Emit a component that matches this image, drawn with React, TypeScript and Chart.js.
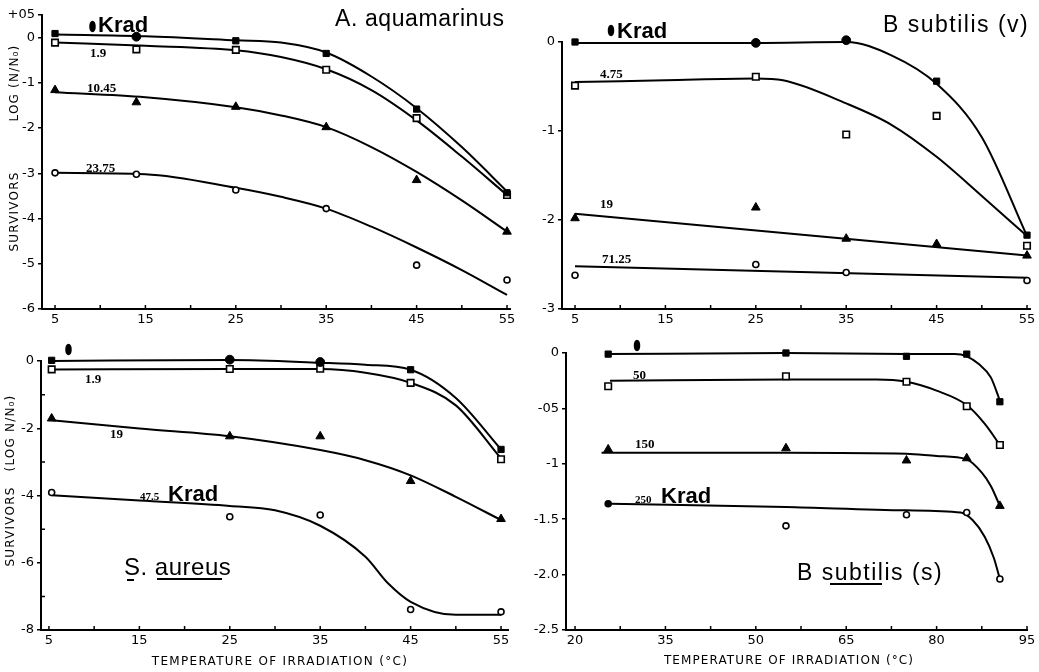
import React, { useEffect, useRef } from 'react';
import { Chart, registerables } from 'chart.js';
Chart.register(...registerables);

// ---------- Panel A : A. aquamarinus ----------
const A_X = [5, 14, 25, 35, 45, 55];
const A_K0 = [0.09, 0.02, -0.07, -0.35, -1.58, -3.43];
const A_K1_9 = [-0.11, -0.26, -0.27, -0.71, -1.78, -3.48];
const A_K10_45 = [-1.16, -1.43, -1.53, -1.98, -3.15, -4.29];
const A_K23_75 = [-2.99, -3.02, -3.37, -3.78, -5.03, -5.36];
const A_FIT_X = [5, 15, 25, 30, 35, 40, 45, 50, 55];
const A_FIT_K0 = [0.07, 0.03, -0.06, -0.11, -0.33, -0.86, -1.56, -2.42, -3.4];
const A_FIT_K1_9 = [-0.11, -0.18, -0.28, -0.43, -0.7, -1.16, -1.83, -2.63, -3.48];
const A_FIT_K10_45 = [-1.21, -1.32, -1.54, -1.72, -1.98, -2.42, -2.97, -3.6, -4.29];
const A_FIT_K23_75 = [-2.99, -3.02, -3.32, -3.52, -3.78, -4.18, -4.64, -5.14, -5.69];
const A_Y_TICKS = [0.5, 0, -1, -2, -3, -4, -5, -6];
const A_Y_LABELS = ['+05', '0', '-1', '-2', '-3', '-4', '-5', '-6'];

// ---------- Panel B : B subtilis (v) ----------
const B_X = [5, 25, 35, 45, 55];
const B_K0 = [0, -0.01, 0.02, -0.44, -2.17];
const B_K4_75 = [-0.49, -0.39, -1.04, -0.83, -2.29];
const B_K19 = [-1.98, -1.86, -2.21, -2.27, -2.4];
const B_X71 = [5, 25, 35, 55];
const B_K71_25 = [-2.62, -2.5, -2.59, -2.68];
const B_FIT0_X = [5, 25, 35, 40, 45, 50, 55];
const B_FIT_K0 = [-0.01, -0.01, 0.0, -0.15, -0.47, -1.07, -2.18];
const B_FIT475_X = [5, 15, 25, 28, 35, 40, 45, 50, 55];
const B_FIT_K4_75 = [-0.45, -0.43, -0.41, -0.43, -0.69, -0.93, -1.29, -1.73, -2.18];
const B_FITLIN_X = [5, 55];
const B_FIT_K19 = [-1.93, -2.4];
const B_FIT_K71_25 = [-2.52, -2.65];
const B_Y_TICKS = [0, -1, -2, -3];
const B_Y_LABELS = ['0', '-1', '-2', '-3'];

// ---------- Panel C : S. aureus ----------
const C_X = [5.3, 25, 35, 45, 55];
const C_K0 = [0.02, 0.04, -0.03, -0.26, -2.63];
const C_K1_9 = [-0.25, -0.24, -0.23, -0.65, -2.92];
const C_K19 = [-1.71, -2.24, -2.24, -3.57, -4.7];
const C_K47_5 = [-3.91, -4.63, -4.58, -7.39, -7.46];
const C_FIT_X0 = [5.3, 25, 35, 40, 45, 50, 55];
const C_FIT_K0 = [0, 0.03, -0.05, -0.11, -0.26, -1.1, -2.63];
const C_FIT_K1_9 = [-0.25, -0.24, -0.24, -0.35, -0.65, -1.32, -2.9];
const C_FIT_X19 = [5.3, 15, 25, 35, 40, 45, 50, 55];
const C_FIT_K19 = [-1.76, -2.01, -2.24, -2.65, -2.95, -3.4, -4.04, -4.73];
const C_FIT_X47 = [5.3, 15, 25, 30, 35, 40, 42.5, 45, 50, 55];
const C_FIT_K47_5 = [-3.99, -4.15, -4.31, -4.44, -4.9, -5.82, -6.61, -7.16, -7.55, -7.55];
const C_Y_TICKS = [0, -2, -4, -6, -8];
const C_Y_LABELS = ['0', '-2', '-4', '-6', '-8'];
const C_Y_MINOR = [-1, -3, -5, -7];

// ---------- Panel D : B subtilis (s) ----------
const D_X = [25.5, 55, 75, 85, 90.5];
const D_K0 = [-0.01, 0, -0.03, -0.01, -0.44];
const D_K50 = [-0.3, -0.21, -0.26, -0.48, -0.83];
const D_K150 = [-0.87, -0.86, -0.97, -0.95, -1.38];
const D_K250 = [-1.36, -1.56, -1.46, -1.44, -2.04];
const D_FIT_X0 = [25, 55, 75, 83, 85, 87, 89, 90.5];
const D_FIT_K0 = [-0.01, 0, -0.01, -0.01, -0.03, -0.1, -0.22, -0.43];
const D_FIT_X50 = [25.8, 55, 70, 75, 80, 85, 88, 90.5];
const D_FIT_K50 = [-0.25, -0.24, -0.24, -0.26, -0.34, -0.47, -0.64, -0.83];
const D_FIT_X150 = [24.4, 55, 75, 80, 85, 87.5, 89, 90.5];
const D_FIT_K150 = [-0.9, -0.9, -0.91, -0.93, -0.96, -1.08, -1.2, -1.38];
const D_FIT_X250 = [25.8, 55, 75, 84, 86, 88, 89.5, 90.5];
const D_FIT_K250 = [-1.36, -1.39, -1.42, -1.44, -1.51, -1.66, -1.85, -2.04];
const D_Y_TICKS = [0, -0.5, -1, -1.5, -2, -2.5];
const D_Y_LABELS = ['0', '-05', '-1', '-1.5', '-2.0', '-2.5'];

// ---------- x tick sets ----------
const X_TICKS_T = [5, 10, 15, 20, 25, 30, 35, 40, 45, 50, 55];
const X_LABELS_T = ['5', '', '15', '', '25', '', '35', '', '45', '', '55'];
const X_TICKS_D = [20, 27.5, 35, 42.5, 50, 57.5, 65, 72.5, 80, 87.5, 95];
const X_LABELS_D = ['20', '', '35', '', '50', '', '65', '', '80', '', '95'];

const X_TITLE = 'TEMPERATURE OF IRRADIATION (°C)';

const MARK: Record<string, any> = {
  sqFill: { pointStyle: 'rect', pointRadius: 4.4, pointBackgroundColor: '#000', pointBorderColor: '#000', pointBorderWidth: 1 },
  sqOpen: { pointStyle: 'rect', pointRadius: 4.6, pointBackgroundColor: '#fff', pointBorderColor: '#000', pointBorderWidth: 1.6 },
  tri: { pointStyle: 'triangle', pointRadius: 5, pointBackgroundColor: '#000', pointBorderColor: '#000', pointBorderWidth: 1 },
  circOpen: { pointStyle: 'circle', pointRadius: 3, pointBackgroundColor: '#fff', pointBorderColor: '#000', pointBorderWidth: 1.6 },
};

const pts = (xs: number[], ys: number[]) => xs.map((x, i) => ({ x, y: ys[i] }));
const markDs = (xs: number[], ys: number[], mark: string, extra: any = {}) => ({
  data: pts(xs, ys), showLine: false, clip: false, ...MARK[mark], ...extra,
});
const fitDs = (xs: number[], ys: number[]) => ({
  data: pts(xs, ys), showLine: true, pointRadius: 0, borderColor: '#000', borderWidth: 2,
  cubicInterpolationMode: 'monotone', tension: 0.4, clip: false, fill: false,
});

const BLOB = 'bold 11px "DejaVu Sans Condensed"';
const NUM = 'bold 13px "Liberation Serif"';
const NUM_S = 'bold 11px "Liberation Serif"';
const KRAD = 'bold 22px "Liberation Sans"';
const TITLE = '23px "Liberation Sans"';
const AXIS = '12px "DejaVu Sans"';
const R = -Math.PI / 2;

type Txt = { t: string; x: number; y: number; font: string; align?: CanvasTextAlign; base?: CanvasTextBaseline; rot?: number; blob?: boolean; sp?: number };
type Ln = [number, number, number, number];

const PANELS: any[] = [
  {
    left: 0, top: 0, width: 520, height: 330,
    padding: { left: 0, top: 15, right: 10, bottom: 0 }, yW: 42, xH: 21,
    xMin: 3.56, xMax: 55.33, xTicks: X_TICKS_T, xLabels: X_LABELS_T,
    yMin: -6, yMax: 0.5, yTicks: A_Y_TICKS, yLabels: A_Y_LABELS, yMinor: [],
    datasets: [
      markDs(A_X, A_K0, 'sqFill', { pointStyle: ['rect', 'circle', 'rect', 'rect', 'rect', 'rect'] }),
      markDs(A_X, A_K1_9, 'sqOpen'),
      markDs(A_X, A_K10_45, 'tri'),
      markDs(A_X, A_K23_75, 'circOpen'),
      fitDs(A_FIT_X, A_FIT_K0),
      fitDs(A_FIT_X, A_FIT_K1_9),
      fitDs(A_FIT_X, A_FIT_K10_45),
      fitDs(A_FIT_X, A_FIT_K23_75),
    ],
    texts: [
      { t: '0', x: 92.5, y: 27.5, font: BLOB, align: 'center', base: 'middle', blob: true },
      { t: 'Krad', x: 98, y: 32, font: KRAD },
      { t: '1.9', x: 90, y: 57, font: NUM },
      { t: '10.45', x: 87, y: 92, font: NUM },
      { t: '23.75', x: 86, y: 172, font: NUM },
      { t: 'A. aquamarinus', x: 335, y: 26, font: TITLE, sp: 0.6 },
      { t: 'LOG (N/N₀)', x: 15, y: 83, font: AXIS, align: 'center', base: 'middle', rot: R, sp: 1.2 },
      { t: 'SURVIVORS', x: 15, y: 211.5, font: AXIS, align: 'center', base: 'middle', rot: R, sp: 1.2 },
    ] as Txt[],
    lines: [] as Ln[],
  },
  {
    left: 520, top: 0, width: 519, height: 330,
    padding: { left: 0, top: 42, right: 9, bottom: 0 }, yW: 42, xH: 21,
    xMin: 3.56, xMax: 55.33, xTicks: X_TICKS_T, xLabels: X_LABELS_T,
    yMin: -3, yMax: 0, yTicks: B_Y_TICKS, yLabels: B_Y_LABELS, yMinor: [],
    datasets: [
      markDs(B_X, B_K0, 'sqFill', { pointStyle: ['rect', 'circle', 'circle', 'rect', 'rect'] }),
      markDs(B_X, B_K4_75, 'sqOpen'),
      markDs(B_X, B_K19, 'tri'),
      markDs(B_X71, B_K71_25, 'circOpen'),
      fitDs(B_FIT0_X, B_FIT_K0),
      fitDs(B_FIT475_X, B_FIT_K4_75),
      fitDs(B_FITLIN_X, B_FIT_K19),
      fitDs(B_FITLIN_X, B_FIT_K71_25),
    ],
    texts: [
      { t: '0', x: 611, y: 32, font: BLOB, align: 'center', base: 'middle', blob: true },
      { t: 'Krad', x: 617, y: 38, font: KRAD },
      { t: '4.75', x: 600, y: 78, font: NUM },
      { t: '19', x: 600, y: 208, font: NUM },
      { t: '71.25', x: 602, y: 263, font: NUM },
      { t: 'B subtilis (v)', x: 883, y: 32, font: TITLE, sp: 1.5 },
    ] as Txt[],
    lines: [] as Ln[],
  },
  {
    left: 0, top: 330, width: 520, height: 342,
    padding: { left: 0, top: 31, right: 12, bottom: 0 }, yW: 41, xH: 42,
    xMin: 4.12, xMax: 55.77, xTicks: X_TICKS_T, xLabels: X_LABELS_T,
    yMin: -8, yMax: 0, yTicks: C_Y_TICKS, yLabels: C_Y_LABELS, yMinor: C_Y_MINOR,
    datasets: [
      markDs(C_X, C_K0, 'sqFill', { pointStyle: ['rect', 'circle', 'circle', 'rect', 'rect'] }),
      markDs(C_X, C_K1_9, 'sqOpen'),
      markDs(C_X, C_K19, 'tri'),
      markDs(C_X, C_K47_5, 'circOpen'),
      fitDs(C_FIT_X0, C_FIT_K0),
      fitDs(C_FIT_X0, C_FIT_K1_9),
      fitDs(C_FIT_X19, C_FIT_K19),
      fitDs(C_FIT_X47, C_FIT_K47_5),
    ],
    texts: [
      { t: '0', x: 68.5, y: 350.5, font: BLOB, align: 'center', base: 'middle', blob: true },
      { t: '1.9', x: 85, y: 383, font: NUM },
      { t: '19', x: 110, y: 438, font: NUM },
      { t: '47.5', x: 140, y: 500, font: NUM_S },
      { t: 'Krad', x: 168, y: 501, font: KRAD },
      { t: 'S. aureus', x: 124, y: 575, font: '24px "Liberation Sans"', sp: 0.5 },
      { t: '(LOG N/N₀)', x: 11, y: 433, font: AXIS, align: 'center', base: 'middle', rot: R, sp: 1.2 },
      { t: 'SURVIVORS', x: 11, y: 526.5, font: AXIS, align: 'center', base: 'middle', rot: R, sp: 1.2 },
      { t: X_TITLE, x: 280, y: 662, font: AXIS, align: 'center', base: 'middle', sp: 1.3 },
    ] as Txt[],
    lines: [[127, 580, 134, 580], [157, 579, 222, 579]] as Ln[],
  },
  {
    left: 520, top: 330, width: 519, height: 342,
    padding: { left: 0, top: 23, right: 12, bottom: 0 }, yW: 46, xH: 42,
    xMin: 18.5, xMax: 95, xTicks: X_TICKS_D, xLabels: X_LABELS_D,
    yMin: -2.5, yMax: 0, yTicks: D_Y_TICKS, yLabels: D_Y_LABELS, yMinor: [],
    datasets: [
      markDs(D_X, D_K0, 'sqFill'),
      markDs(D_X, D_K50, 'sqOpen'),
      markDs(D_X, D_K150, 'tri'),
      markDs(D_X, D_K250, 'circOpen', { pointBackgroundColor: ['#000', '#fff', '#fff', '#fff', '#fff'] }),
      fitDs(D_FIT_X0, D_FIT_K0),
      fitDs(D_FIT_X50, D_FIT_K50),
      fitDs(D_FIT_X150, D_FIT_K150),
      fitDs(D_FIT_X250, D_FIT_K250),
    ],
    texts: [
      { t: '0', x: 637, y: 347, font: BLOB, align: 'center', base: 'middle', blob: true },
      { t: '50', x: 633, y: 379, font: NUM },
      { t: '150', x: 635, y: 448, font: NUM },
      { t: '250', x: 635, y: 503, font: NUM_S },
      { t: 'Krad', x: 661, y: 503, font: KRAD },
      { t: 'B subtilis (s)', x: 797, y: 580, font: TITLE, sp: 1.5 },
      { t: X_TITLE, x: 789, y: 661, font: AXIS, align: 'center', base: 'middle', sp: 1.1 },
    ] as Txt[],
    lines: [[830, 584, 882, 584]] as Ln[],
  },
];

function makeTextPlugin(texts: Txt[], lines: Ln[], ox: number, oy: number) {
  return {
    id: 'texts',
    afterDraw(chart: any) {
      const ctx = chart.ctx as CanvasRenderingContext2D;
      for (const it of texts) {
        ctx.save();
        ctx.font = it.font;
        ctx.fillStyle = '#000';
        (ctx as any).letterSpacing = (it.sp ?? 0) + 'px';
        ctx.textAlign = it.align ?? 'left';
        ctx.textBaseline = it.base ?? 'alphabetic';
        ctx.translate(it.x - ox, it.y - oy);
        if (it.rot) ctx.rotate(it.rot);
        if (it.blob) {
          ctx.strokeStyle = '#000';
          ctx.lineWidth = 2.2;
          ctx.scale(0.8, 1.1);
          ctx.strokeText(it.t, 0, 0);
        }
        ctx.fillText(it.t, 0, 0);
        ctx.restore();
      }
      ctx.save();
      ctx.strokeStyle = '#000';
      ctx.lineWidth = 2;
      for (const [x1, y1, x2, y2] of lines) {
        ctx.beginPath();
        ctx.moveTo(x1 - ox, y1 - oy);
        ctx.lineTo(x2 - ox, y2 - oy);
        ctx.stroke();
      }
      ctx.restore();
    },
  };
}

function makeTickPlugin(minorY: number[]) {
  return {
    id: 'innerTicks',
    afterDraw(chart: any) {
      const { ctx, chartArea } = chart;
      const xs = chart.scales.x;
      const ys = chart.scales.y;
      ctx.save();
      ctx.strokeStyle = '#000';
      ctx.lineWidth = 1.5;
      ctx.beginPath();
      for (const t of xs.ticks) {
        const px = xs.getPixelForValue(t.value);
        ctx.moveTo(px, chartArea.bottom);
        ctx.lineTo(px, chartArea.bottom - 4);
      }
      for (const v of minorY) {
        const py = ys.getPixelForValue(v);
        ctx.moveTo(chartArea.left, py);
        ctx.lineTo(chartArea.left + 4, py);
      }
      ctx.stroke();
      ctx.restore();
    },
  };
}

function buildConfig(p: any): any {
  const tickFont = { family: '"DejaVu Sans"', size: 13 };
  return {
    type: 'scatter',
    data: { datasets: p.datasets },
    options: {
      responsive: false,
      maintainAspectRatio: false,
      animation: false,
      events: [],
      layout: { padding: p.padding },
      plugins: { legend: { display: false }, tooltip: { enabled: false }, title: { display: false } },
      scales: {
        x: {
          type: 'linear',
          min: p.xMin,
          max: p.xMax,
          afterBuildTicks: (s: any) => { s.ticks = p.xTicks.map((v: number) => ({ value: v })); },
          afterFit: (s: any) => { s.height = p.xH; },
          ticks: {
            autoSkip: false, maxRotation: 0, padding: 3, color: '#000', font: tickFont,
            callback: (v: number) => p.xLabels[p.xTicks.indexOf(v)] ?? '',
          },
          grid: { display: false, drawTicks: false },
          border: { display: true, color: '#000', width: 2 },
        },
        y: {
          type: 'linear',
          min: p.yMin,
          max: p.yMax,
          afterBuildTicks: (s: any) => { s.ticks = p.yTicks.map((v: number) => ({ value: v })); },
          afterFit: (s: any) => { s.width = p.yW; },
          ticks: {
            autoSkip: false, padding: 3, color: '#000', font: tickFont,
            callback: (v: number) => p.yLabels[p.yTicks.indexOf(v)] ?? '',
          },
          grid: { display: true, drawOnChartArea: false, drawTicks: true, tickLength: 4, color: '#000', lineWidth: 1.5 },
          border: { display: true, color: '#000', width: 2 },
        },
      },
    },
    plugins: [makeTextPlugin(p.texts, p.lines, p.left, p.top), makeTickPlugin(p.yMinor)],
  };
}

export default function App() {
  const refs = useRef<(HTMLCanvasElement | null)[]>([]);
  useEffect(() => {
    const charts = PANELS.map((p, i) => new Chart(refs.current[i] as HTMLCanvasElement, buildConfig(p)));
    return () => charts.forEach((c) => c.destroy());
  }, []);
  return (
    <div style={{ position: 'absolute', left: 0, top: 0, width: 1039, height: 672, background: '#fff', overflow: 'hidden' }}>
      {PANELS.map((p, i) => (
        <canvas
          key={i}
          ref={(el) => { refs.current[i] = el; }}
          width={p.width}
          height={p.height}
          style={{ position: 'absolute', left: p.left, top: p.top, width: p.width, height: p.height }}
        />
      ))}
    </div>
  );
}
